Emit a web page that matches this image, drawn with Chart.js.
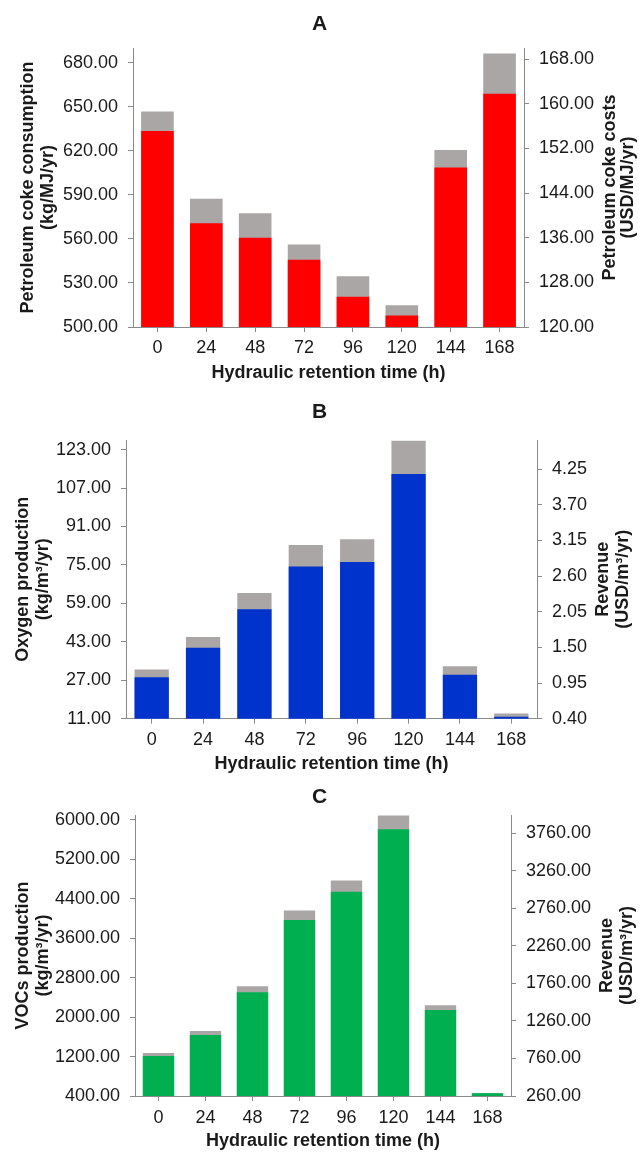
<!DOCTYPE html>
<html>
<head>
<meta charset="utf-8">
<script src="https://cdn.jsdelivr.net/npm/chart.js@4.4.0/dist/chart.umd.min.js"></script>
<style>
  body { margin: 0; background: #fff; }
  .panel { position: absolute; left: 0; width: 639px; }
</style>
</head>
<body>
<div class="panel" style="top:0;height:390px"><canvas id="chartA"></canvas></div>
<div class="panel" style="top:390px;height:388px"><canvas id="chartB"></canvas></div>
<div class="panel" style="top:778px;height:374px"><canvas id="chartC"></canvas></div>
<script>
// hydraulic retention time (h)
const hrt = ['0', '24', '48', '72', '96', '120', '144', '168'];

// A - petroleum coke
const cokeConsumption = [633.5, 570.7, 560.7, 545.8, 520.6, 507.9, 608.6, 658.9];
const cokeCosts = [158.6, 143.0, 140.4, 134.8, 129.1, 123.9, 151.7, 169.0];
const cokeConsumptionTicks = [500, 530, 560, 590, 620, 650, 680];
const cokeCostsTicks = [120, 128, 136, 144, 152, 160, 168];

// B - oxygen
const oxygenProduction = [28.3, 40.5, 56.6, 74.3, 76.2, 112.9, 29.3, 11.8];
const oxygenRevenue = [1.16, 1.66, 2.34, 3.08, 3.17, 4.69, 1.21, 0.48];
const oxygenTicks = [11, 27, 43, 59, 75, 91, 107, 123];
const oxygenRevenueTicks = [0.40, 0.95, 1.50, 2.05, 2.60, 3.15, 3.70, 4.25];

// C - VOCs
const vocsProduction = [1212, 1638, 2504, 3971, 4545, 5811, 2145, 455];
const vocsRevenue = [833, 1126, 1722, 2729, 3129, 3995, 1469, 300];
const vocsTicks = [400, 1200, 2000, 2800, 3600, 4400, 5200, 6000];
const vocsRevenueTicks = [260, 760, 1260, 1760, 2260, 2760, 3260, 3760];

const fontFamily = "'Liberation Sans', Arial, sans-serif";
const textColor = '#1a1a1a';
const axisGray = '#8a8a8a';
const barGray = '#aaa6a6';

// right axis title reads bottom-to-top like the left one
function rightTitle(lines, offsets) {
    return {
        id: 'rightTitle',
        afterDraw(chart) {
            const s = chart.scales.y1;
            const ctx = chart.ctx;
            ctx.save();
            ctx.font = `bold 18px ${fontFamily}`;
            ctx.fillStyle = textColor;
            ctx.textAlign = 'center';
            ctx.textBaseline = 'middle';
            const cy = (s.top + s.bottom) / 2;
            lines.forEach((line, i) => {
                ctx.save();
                ctx.translate(s.right - offsets[i], cy);
                ctx.rotate(-Math.PI / 2);
                ctx.fillText(line, 0, 0);
                ctx.restore();
            });
            ctx.restore();
        }
    };
}

function drawPanel(id, p) {
    const tickFont = { family: fontFamily, size: 18 };
    const titleFont = { family: fontFamily, size: 18, weight: 'bold', lineHeight: 1.1 };
    new Chart(document.getElementById(id), {
        type: 'bar',
        data: {
            labels: hrt,
            datasets: [
                { data: p.main, backgroundColor: p.color, yAxisID: 'y', grouped: false, categoryPercentage: 0.667, barPercentage: 1 },
                { data: p.money, backgroundColor: barGray, yAxisID: 'y1', grouped: false, categoryPercentage: 0.667, barPercentage: 1 }
            ]
        },
        options: {
            responsive: true,
            maintainAspectRatio: false,
            animation: false,
            layout: { padding: 0 },
            plugins: {
                legend: { display: false },
                tooltip: { enabled: false },
                title: {
                    display: true,
                    text: p.title,
                    color: textColor,
                    font: { family: fontFamily, size: 21, weight: 'bold' },
                    padding: { top: p.titleTop, bottom: p.titleBottom }
                }
            },
            scales: {
                x: {
                    offset: true,
                    grid: { offset: false, drawOnChartArea: false, tickLength: 5, color: axisGray },
                    border: { color: axisGray },
                    ticks: { color: textColor, font: tickFont, padding: p.xTickPad, maxRotation: 0 },
                    title: {
                        display: true,
                        text: 'Hydraulic retention time (h)',
                        color: textColor,
                        font: { family: fontFamily, size: 18, weight: 'bold' },
                        padding: { top: 0, bottom: p.xTitlePad }
                    },
                    afterFit: s => { s.height = p.xHeight; }
                },
                y: {
                    position: 'left',
                    min: p.leftRange[0],
                    max: p.leftRange[1],
                    bounds: 'data',
                    afterBuildTicks: s => { s.ticks = p.leftTicks.map(v => ({ value: v })); },
                    afterFit: s => { s.width = p.plotLeft; },
                    grid: { drawOnChartArea: false, tickLength: 5, color: axisGray },
                    border: { color: axisGray },
                    ticks: { color: textColor, font: tickFont, padding: 10, callback: v => Number(v).toFixed(2) },
                    title: {
                        display: true,
                        text: p.leftTitle,
                        color: textColor,
                        font: titleFont,
                        padding: { top: p.leftTitlePad, bottom: 0 }
                    }
                },
                y1: {
                    position: 'right',
                    min: p.rightRange[0],
                    max: p.rightRange[1],
                    bounds: 'data',
                    afterBuildTicks: s => { s.ticks = p.rightTicks.map(v => ({ value: v })); },
                    afterFit: s => { s.width = 639 - p.plotRight; },
                    grid: { drawOnChartArea: false, tickLength: 5, color: axisGray },
                    border: { color: axisGray },
                    ticks: { color: textColor, font: tickFont, padding: 10, callback: v => Number(v).toFixed(2) }
                }
            }
        },
        plugins: [rightTitle(p.rightTitle, p.rightTitleOffsets)]
    });
}

drawPanel('chartA', {
    title: 'A',
    main: cokeConsumption, money: cokeCosts, color: '#ff0000',
    leftTicks: cokeConsumptionTicks, rightTicks: cokeCostsTicks,
    leftRange: [500, 690], rightRange: [120, 170],
    leftTitle: ['Petroleum coke consumption', '(kg/MJ/yr)'],
    rightTitle: ['Petroleum coke costs', '(USD/MJ/yr)'],
    rightTitleOffsets: [29, 11],
    titleTop: 11.4, titleBottom: 11.4,
    plotLeft: 133, plotRight: 524,
    xHeight: 63, xTickPad: 5.3, xTitlePad: 5.9, leftTitlePad: 18.6
});

drawPanel('chartB', {
    title: 'B',
    main: oxygenProduction, money: oxygenRevenue, color: '#0033cc',
    leftTicks: oxygenTicks, rightTicks: oxygenRevenueTicks,
    leftRange: [11, 127], rightRange: [0.40, 4.70],
    leftTitle: ['Oxygen production', '(kg/m³/yr)'],
    rightTitle: ['Revenue', '(USD/m³/yr)'],
    rightTitleOffsets: [36, 16],
    titleTop: 9.4, titleBottom: 15.4,
    plotLeft: 126, plotRight: 537,
    xHeight: 59.3, xTickPad: 5.8, xTitlePad: 3.2, leftTitlePad: 13
});

drawPanel('chartC', {
    title: 'C',
    main: vocsProduction, money: vocsRevenue, color: '#00b050',
    leftTicks: vocsTicks, rightTicks: vocsRevenueTicks,
    leftRange: [400, 6100], rightRange: [260, 4000],
    leftTitle: ['VOCs production', '(kg/m³/yr)'],
    rightTitle: ['Revenue', '(USD/m³/yr)'],
    rightTitleOffsets: [32, 11.5],
    titleTop: 6.9, titleBottom: 4.9,
    plotLeft: 135, plotRight: 511,
    xHeight: 56, xTickPad: 6.3, xTitlePad: 0, leftTitlePad: 13
});
</script>
</body>
</html>
